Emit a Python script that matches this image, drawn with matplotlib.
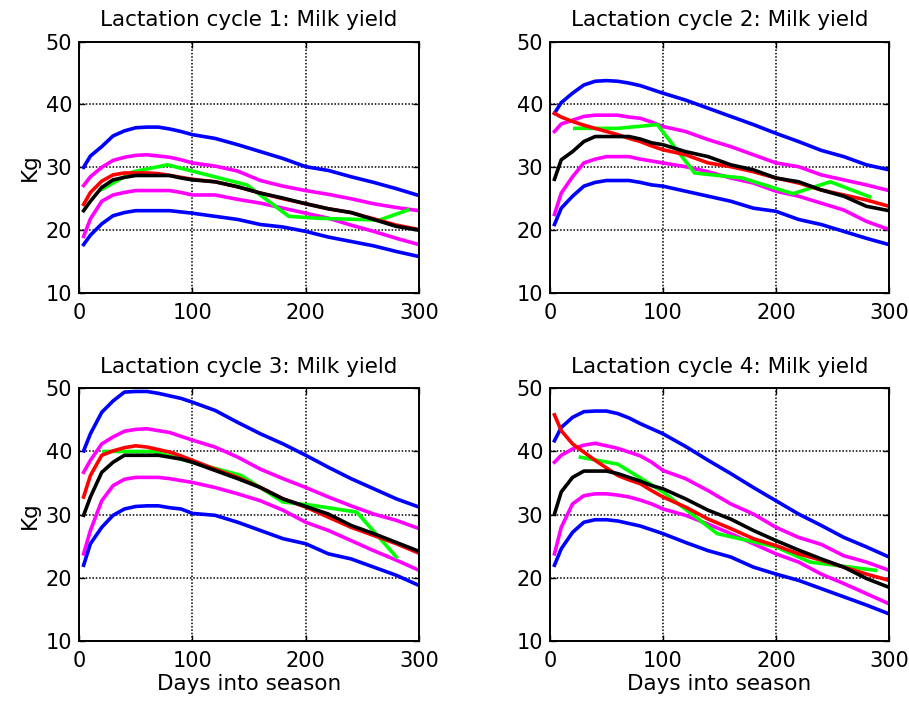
import matplotlib
matplotlib.use('Agg')
import matplotlib.pyplot as plt

# days at which the curves were read (shared grid)
days = [4, 10, 20, 30, 40, 50, 60, 70, 80, 90, 100, 120, 140, 160, 180, 200, 220, 240, 260, 280, 300]

# cycle 1
c1_blue_hi = [30.0, 31.8, 33.3, 35.0, 35.8, 36.3, 36.4, 36.4, 36.1, 35.7, 35.2, 34.6, 33.6, 32.5, 31.4, 30.1, 29.5, 28.5, 27.6, 26.6, 25.5]
c1_mag_hi = [27.1, 28.5, 30.0, 31.1, 31.6, 31.9, 32.0, 31.8, 31.6, 31.2, 30.7, 30.2, 29.4, 27.9, 27.0, 26.3, 25.7, 25.0, 24.2, 23.6, 23.1]
c1_red = [24.1, 26.0, 27.8, 28.8, 29.1, 29.1, 29.1, 29.0, 28.7, 28.4, 28.1, 27.7, 26.9, 25.9, 25.0, 24.2, 23.4, 22.8, 21.8, 20.8, 20.1]
c1_black = [23.1, 24.6, 26.8, 28.0, 28.4, 28.7, 28.7, 28.7, 28.7, 28.3, 28.0, 27.7, 26.9, 25.9, 25.1, 24.2, 23.4, 22.8, 21.7, 20.6, 20.0]
c1_mag_lo = [19.0, 21.8, 24.6, 25.6, 26.0, 26.3, 26.3, 26.3, 26.3, 26.0, 25.6, 25.6, 24.9, 24.3, 23.5, 22.7, 21.9, 20.8, 19.8, 18.7, 17.7]
c1_blue_lo = [17.7, 19.2, 21.0, 22.3, 22.8, 23.1, 23.1, 23.1, 23.1, 22.9, 22.7, 22.2, 21.7, 20.9, 20.5, 19.8, 18.9, 18.2, 17.5, 16.6, 15.8]
c1_green_days = [20, 48, 78, 148, 185, 210, 265, 290]
c1_green = [26.5, 29.3, 30.4, 27.2, 22.2, 21.9, 21.6, 23.2]

# cycle 2
c2_blue_hi = [38.6, 40.3, 41.8, 43.1, 43.7, 43.8, 43.7, 43.4, 43.0, 42.4, 41.8, 40.7, 39.4, 38.1, 36.8, 35.4, 34.1, 32.7, 31.7, 30.4, 29.6]
c2_mag_hi = [35.7, 36.9, 37.5, 38.1, 38.3, 38.3, 38.3, 38.0, 37.8, 37.2, 36.5, 35.7, 34.4, 33.3, 32.0, 30.7, 30.1, 28.8, 28.0, 27.2, 26.3]
c2_red = [38.6, 38.0, 37.3, 36.7, 36.2, 35.7, 35.2, 34.6, 34.1, 33.4, 32.8, 32.0, 30.7, 30.1, 29.3, 28.3, 27.5, 26.4, 25.6, 24.8, 23.8]
c2_black = [28.1, 31.2, 32.5, 34.1, 34.9, 34.9, 34.9, 34.9, 34.5, 33.9, 33.6, 32.5, 31.7, 30.4, 29.6, 28.3, 27.7, 26.4, 25.4, 23.8, 23.1]
c2_mag_lo = [22.5, 25.9, 28.5, 30.7, 31.3, 31.7, 31.7, 31.7, 31.3, 31.0, 30.7, 30.1, 29.3, 28.3, 27.5, 26.2, 25.4, 24.3, 23.2, 21.4, 20.1]
c2_blue_lo = [20.9, 23.5, 25.4, 27.0, 27.6, 27.9, 27.9, 27.9, 27.6, 27.2, 27.0, 26.2, 25.4, 24.6, 23.5, 23.0, 21.7, 20.9, 19.8, 18.7, 17.7]
c2_green_days = [22, 60, 95, 128, 170, 215, 248, 283]
c2_green = [36.2, 36.2, 36.8, 29.1, 28.3, 25.8, 27.7, 25.3]

# cycle 3
c3_blue_hi = [40.1, 42.8, 46.2, 48.0, 49.4, 49.5, 49.5, 49.2, 48.8, 48.4, 47.8, 46.5, 44.6, 42.8, 41.2, 39.4, 37.5, 35.7, 34.1, 32.5, 31.2]
c3_mag_hi = [36.7, 38.6, 41.2, 42.3, 43.2, 43.5, 43.6, 43.3, 43.0, 42.4, 41.8, 40.7, 39.1, 37.2, 35.7, 34.3, 32.8, 31.4, 30.1, 29.1, 27.8]
c3_red = [32.8, 36.2, 39.4, 40.1, 40.6, 40.9, 40.7, 40.3, 39.9, 39.3, 38.6, 37.2, 35.9, 34.3, 32.5, 31.2, 29.6, 28.0, 26.7, 25.4, 23.9]
c3_black = [29.9, 32.8, 36.7, 38.3, 39.4, 39.4, 39.4, 39.4, 39.1, 38.8, 38.3, 37.0, 35.7, 34.3, 32.5, 31.3, 30.1, 28.3, 27.0, 25.6, 24.2]
c3_mag_lo = [23.8, 27.5, 32.2, 34.6, 35.6, 35.9, 35.9, 35.9, 35.7, 35.4, 35.1, 34.3, 33.3, 32.2, 30.7, 28.8, 27.5, 25.9, 24.3, 22.8, 21.2]
c3_blue_lo = [22.0, 25.4, 28.0, 29.9, 30.9, 31.3, 31.4, 31.4, 31.1, 30.9, 30.2, 29.9, 28.8, 27.5, 26.2, 25.4, 23.8, 23.0, 21.7, 20.4, 18.8]
c3_green_days = [22, 65, 100, 143, 180, 205, 245, 280]
c3_green = [40.0, 40.0, 38.3, 36.2, 32.0, 31.5, 30.4, 23.3]

# cycle 4
c4_blue_hi = [41.7, 43.8, 45.4, 46.3, 46.4, 46.4, 46.0, 45.3, 44.4, 43.6, 42.8, 40.8, 38.6, 36.5, 34.3, 32.2, 30.1, 28.3, 26.4, 24.9, 23.3]
c4_mag_hi = [38.3, 39.4, 40.4, 41.0, 41.3, 40.9, 40.5, 39.9, 39.3, 38.3, 37.0, 35.7, 33.8, 31.7, 30.1, 28.0, 26.4, 25.3, 23.5, 22.5, 21.2]
c4_red = [45.8, 43.3, 41.2, 39.9, 38.6, 37.4, 36.2, 35.5, 34.9, 33.8, 32.8, 31.2, 29.3, 27.8, 26.2, 25.1, 23.8, 22.8, 21.7, 20.6, 19.6]
c4_black = [30.1, 33.6, 35.9, 36.9, 36.9, 36.9, 36.5, 35.9, 35.3, 34.6, 34.1, 32.5, 30.7, 29.3, 27.5, 25.9, 24.4, 23.0, 21.7, 19.9, 18.5]
c4_mag_lo = [23.8, 28.0, 31.7, 33.0, 33.3, 33.3, 33.1, 32.8, 32.3, 31.7, 30.9, 29.9, 28.5, 27.0, 25.4, 23.8, 22.5, 20.6, 19.1, 17.5, 15.9]
c4_blue_lo = [22.0, 24.6, 27.2, 28.8, 29.2, 29.2, 29.0, 28.6, 28.2, 27.6, 27.0, 25.6, 24.3, 23.3, 21.7, 20.6, 19.6, 18.3, 17.0, 15.7, 14.3]
c4_green_days = [27, 60, 100, 148, 200, 230, 288]
c4_green = [39.1, 38.0, 33.6, 27.0, 24.9, 22.5, 21.2]

cycles = [
    (c1_blue_hi, c1_mag_hi, c1_red, c1_black, c1_mag_lo, c1_blue_lo, c1_green_days, c1_green),
    (c2_blue_hi, c2_mag_hi, c2_red, c2_black, c2_mag_lo, c2_blue_lo, c2_green_days, c2_green),
    (c3_blue_hi, c3_mag_hi, c3_red, c3_black, c3_mag_lo, c3_blue_lo, c3_green_days, c3_green),
    (c4_blue_hi, c4_mag_hi, c4_red, c4_black, c4_mag_lo, c4_blue_lo, c4_green_days, c4_green),
]

plt.rcParams['font.family'] = ['DejaVu Sans']
fig = plt.figure(figsize=(9.09, 7.06), dpi=100)

positions = [
    [0.087, 0.585, 0.374, 0.356],
    [0.605, 0.585, 0.373, 0.356],
    [0.087, 0.092, 0.374, 0.358],
    [0.605, 0.092, 0.373, 0.358],
]

lw = 2.6
for i, (bh, mh, red, blk, ml, bl, gd, gv) in enumerate(cycles):
    ax = fig.add_axes(positions[i])
    ax.plot(days, bh, color='#0000ff', lw=lw)
    ax.plot(days, mh, color='#ff00ff', lw=lw)
    ax.plot(days, ml, color='#ff00ff', lw=lw)
    ax.plot(days, bl, color='#0000ff', lw=lw)
    ax.plot(gd, gv, color='#00ff00', lw=lw)
    ax.plot(days, red, color='#ff0000', lw=lw)
    ax.plot(days, blk, color='black', lw=lw)
    ax.set_xlim(0, 300)
    ax.set_ylim(10, 50)
    ax.set_xticks([0, 100, 200, 300])
    ax.set_yticks([10, 20, 30, 40, 50])
    ax.grid(True, color='black', linestyle=(0, (1, 1.2)), linewidth=1.1)
    ax.tick_params(direction='in', top=True, right=True, labelsize=15, length=4,
                   width=1)
    ax.tick_params(axis='x', pad=7)
    ax.tick_params(axis='y', pad=5)
    for s in ax.spines.values():
        s.set_linewidth(1.4)
    ax.set_title('Lactation cycle %d: Milk yield' % (i + 1), fontsize=15.5, pad=11)
    if i % 2 == 0:
        ax.set_ylabel('Kg', fontsize=15.5, labelpad=4)
    if i >= 2:
        ax.set_xlabel('Days into season', fontsize=15.5, labelpad=2)

fig.savefig('out.png', dpi=100)
